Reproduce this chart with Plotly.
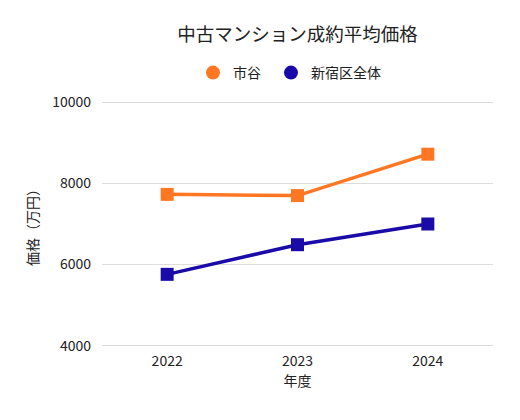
import plotly.graph_objects as go

years = ["2022", "2023", "2024"]
ichigaya = [7730, 7700, 8720]
shinjuku = [5760, 6490, 7000]
series_names = ["市谷", "新宿区全体"]
colors = ["#FF7722", "#1A0AA8"]
y_ticks = [4000, 6000, 8000, 10000]

FONT = "Noto Sans CJK JP, Noto Sans, sans-serif"
TXT = "#222"

fig = go.Figure()
for name, vals, c in zip(series_names, [ichigaya, shinjuku], colors):
    fig.add_trace(go.Scatter(
        x=years, y=vals, mode="lines+markers", name=name,
        line=dict(color=c, width=3.5),
        marker=dict(symbol="square", size=13, color=c),
        showlegend=False,
    ))
legend_ids = ["legend", "legend2"]
for name, c, lg in zip(series_names, colors, legend_ids):
    fig.add_trace(go.Scatter(
        x=[None], y=[None], mode="markers", name=name,
        marker=dict(symbol="circle", size=14, color=c),
        showlegend=True, legend=lg,
    ))

leg_common = dict(orientation="h", xanchor="left", yanchor="middle",
                  y=(339 - 65) / 246,
                  font=dict(family=FONT, size=14, color=TXT),
                  itemsizing="trace", itemwidth=30)

fig.update_layout(
    width=520, height=420,
    margin=dict(l=94, r=35, t=93, b=81, autoexpand=False),
    paper_bgcolor="white", plot_bgcolor="white",
    font=dict(family=FONT, size=14, color=TXT),
    title=dict(text="中古マンション成約平均価格", xref="paper", x=0.5, xanchor="center",
               yref="container", y=1 - 27 / 420, yanchor="middle",
               font=dict(family=FONT, size=18.5, color=TXT)),
    legend=dict(x=0.2327, **leg_common),
    legend2=dict(x=0.4322, **leg_common),
    xaxis=dict(type="category", range=[-0.5, 2.5], showgrid=False, zeroline=False,
               showline=False, ticks="", ticklabelstandoff=4,
               title=dict(text="年度", standoff=6, font=dict(size=14, color=TXT)),
               tickfont=dict(size=14, color=TXT)),
    yaxis=dict(range=[3970, 10030], tickvals=y_ticks, tickformat="d", showgrid=True,
               gridcolor="#dddddd", gridwidth=1, zeroline=False, showline=False,
               ticks="", ticklabelstandoff=10,
               title=dict(text="価格（万円）", standoff=10, font=dict(size=14, color=TXT)),
               tickfont=dict(size=14, color=TXT)),
)

fig.write_html("out.html")
